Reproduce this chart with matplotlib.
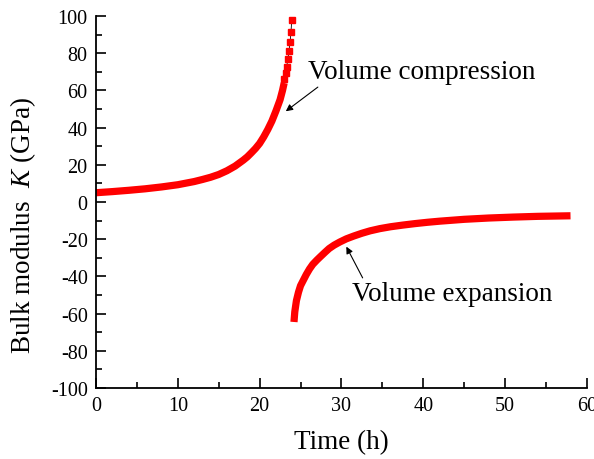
import numpy as np
import matplotlib
matplotlib.use('Agg')
import matplotlib.pyplot as plt
from matplotlib.ticker import MultipleLocator

plt.rcParams['font.family'] = 'Liberation Serif'
plt.rcParams['mathtext.fontset'] = 'custom'
plt.rcParams['mathtext.it'] = 'Liberation Serif:italic'
plt.rcParams['mathtext.rm'] = 'Liberation Serif'
plt.rcParams['axes.unicode_minus'] = False

# compression branch (dense part)
t_comp = [0, 2, 4, 6, 8, 10, 12, 13, 14, 15, 16, 17, 18, 18.5, 19, 19.5, 20, 20.5,
          21, 21.5, 22, 22.5, 22.8, 23.0]
k_comp = [5.0, 5.6, 6.3, 7.1, 8.1, 9.3, 11.0, 12.1, 13.3, 14.8, 16.8, 19.3, 22.5, 24.3,
          26.5, 28.8, 31.5, 35, 39, 43.5, 49, 55, 60, 64]
# sparse markers near the top
t_top = [23.02, 23.19, 23.31, 23.44, 23.59, 23.72, 23.84, 23.92]
k_top = [66.1, 69.4, 72.7, 76.7, 81.0, 85.9, 91.6, 97.8]

# expansion branch
t_exp = [24.2, 24.3, 24.5, 24.75, 25.0, 25.35, 25.7, 26.1, 26.5, 27.0, 27.4, 28.0, 28.5,
         29.1, 29.8, 30.6, 31.5, 32.5, 33.5, 34.7, 36, 37.5, 39, 40.5, 42, 45, 48, 51, 54, 58]
k_exp = [-64.5, -59, -53, -48.5, -45, -42, -39, -36, -33.5, -31.2, -29.5, -27, -25,
         -23.2, -21.5, -19.8, -18.3, -16.8, -15.5, -14.3, -13.3, -12.4, -11.6, -10.9,
         -10.3, -9.3, -8.6, -8.1, -7.7, -7.4]

fig = plt.figure(figsize=(5.94, 4.6), dpi=100)
ax = fig.add_axes([0.1616, 0.1543, 0.8264, 0.8087])

red = '#ff0000'
ax.plot(t_comp, k_comp, color=red, lw=5.2, solid_capstyle='butt', solid_joinstyle='round')
ax.plot(t_top, k_top, color='k', lw=0.6)
ax.plot(t_top, k_top, 's', color=red, ms=4.2, mec=red)
ax.plot(t_exp, k_exp, color=red, lw=5.2, solid_capstyle='butt', solid_joinstyle='round')

ax.annotate('Volume compression', xy=(23.2, 48.8), xytext=(25.9, 70),
            fontsize=19.5, va='center', ha='left',
            arrowprops=dict(arrowstyle='-|>', color='k', lw=0.8,
                            mutation_scale=10, shrinkA=0, shrinkB=0,
                            relpos=(0.06, 0.0)))
ax.annotate('Volume expansion', xy=(30.6, -24), xytext=(31.3, -49),
            fontsize=19.5, va='center', ha='left',
            arrowprops=dict(arrowstyle='-|>', color='k', lw=0.8,
                            mutation_scale=10, shrinkA=0, shrinkB=0,
                            relpos=(0.06, 1.0)))

ax.set_xlim(0, 60)
ax.set_ylim(-100, 100)
ax.xaxis.set_major_locator(MultipleLocator(10))
ax.xaxis.set_minor_locator(MultipleLocator(5))
ax.yaxis.set_major_locator(MultipleLocator(20))
ax.yaxis.set_minor_locator(MultipleLocator(10))

for s in ['top', 'right']:
    ax.spines[s].set_visible(False)
for s in ['left', 'bottom']:
    ax.spines[s].set_linewidth(1.3)

ax.tick_params(which='both', direction='in', width=1.2, labelsize=14.5, color='k')
ax.tick_params(which='major', length=7, pad=6)
ax.tick_params(which='minor', length=4)

ax.set_xlabel('Time (h)', fontsize=19.5, labelpad=10)
ax.set_ylabel('Bulk modulus  $K$ (GPa)', fontsize=19.5)
ax.yaxis.set_label_coords(-0.118, 0.44)

fig.savefig('out.png', dpi=100)
